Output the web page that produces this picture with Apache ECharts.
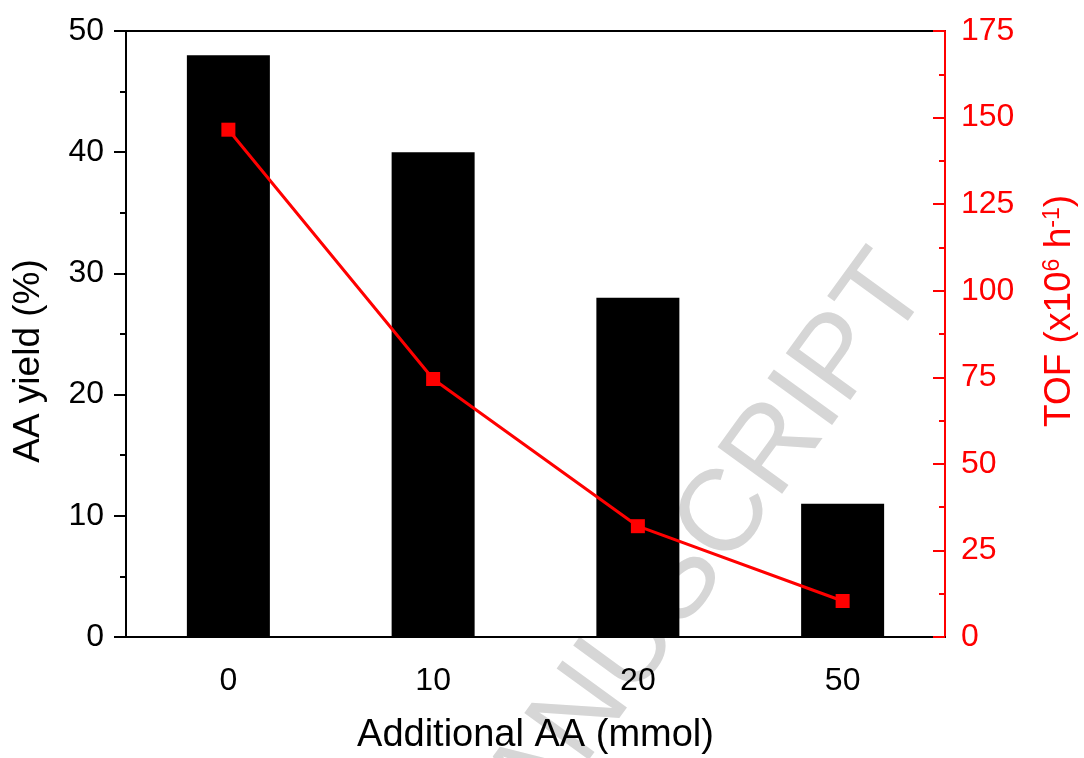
<!DOCTYPE html>
<html>
<head>
<meta charset="utf-8">
<script src="https://cdn.jsdelivr.net/npm/echarts@6/dist/echarts.min.js"></script>
<style>
  html, body { margin: 0; padding: 0; background: #fff; }
  #main { width: 1084px; height: 758px; }
</style>
</head>
<body>
<div id="main"></div>
<script>
// 数据
var categories = ['0', '10', '20', '50'];
var yieldValues = [48, 40, 28, 11];
var tofValues = [146.5, 74.5, 32, 10.4];
var leftTicks = { min: 0, max: 50, interval: 10 };
var rightTicks = { min: 0, max: 175, interval: 25 };

var font = "'Liberation Sans', Arial, sans-serif";
var red = '#ff0000';

var myChart = echarts.init(document.getElementById('main'));

var option = {
    backgroundColor: '#fff',
    animation: false,
    textStyle: { fontFamily: font },
    grid: {
        left: 126, right: 139, top: 31, bottom: 121,
        outerBoundsMode: 'none',
        containLabel: false,
        show: true, borderColor: '#000', borderWidth: 2,
        backgroundColor: 'transparent'
    },
    graphic: [{
        type: 'text',
        z: -10,
        x: 906, y: 269,
        rotation: 54 * Math.PI / 180,
        style: {
            text: 'ACCEPTED MANUSCRIPT',
            fontFamily: font,
            fontSize: 116,
            fill: '#d6d6d6',
            align: 'right',
            verticalAlign: 'middle'
        }
    }],
    xAxis: [{
        type: 'category',
        position: 'bottom',
        data: categories,
        name: 'Additional AA (mmol)',
        nameLocation: 'middle',
        nameGap: 80,
        nameTextStyle: { fontSize: 38, color: '#000', fontFamily: font },
        axisLine: { lineStyle: { color: '#000', width: 2 } },
        axisTick: { alignWithLabel: true, length: 13, lineStyle: { color: '#000', width: 2 } },
        axisLabel: { fontSize: 32, color: '#000', margin: 28, fontFamily: font },
        splitLine: { show: false }
    }, {
        // 底边上的分隔短刻度
        type: 'category',
        position: 'top',
        offset: -606,
        data: categories,
        axisLine: { show: false },
        axisTick: { inside: true, length: 7, lineStyle: { color: '#000', width: 2 } },
        axisLabel: { show: false },
        splitLine: { show: false }
    }],
    yAxis: [{
        type: 'value',
        position: 'left',
        min: leftTicks.min, max: leftTicks.max, interval: leftTicks.interval,
        name: 'AA yield (%)',
        nameLocation: 'middle',
        nameRotate: 90,
        nameGap: 79,
        nameTextStyle: { fontSize: 37, color: '#000', fontFamily: font, padding: [0, 54, 0, 0] },
        axisLine: { show: true, lineStyle: { color: '#000', width: 2 } },
        axisTick: { show: true, length: 12, lineStyle: { color: '#000', width: 2 } },
        minorTick: { show: true, splitNumber: 2, length: 6, lineStyle: { color: '#000', width: 2 } },
        axisLabel: { fontSize: 32, color: '#000', margin: 22, fontFamily: font },
        splitLine: { show: false }
    }, {
        type: 'value',
        position: 'right',
        min: rightTicks.min, max: rightTicks.max, interval: rightTicks.interval,
        name: 'TOF (x10{sup|6} h{sup|-1})',
        nameLocation: 'middle',
        nameRotate: 90,
        nameGap: 96,
        nameTextStyle: {
            fontSize: 37, color: red, fontFamily: font, padding: [0, 0, 0, 46],
            rich: { sup: { fontSize: 23, color: red, fontFamily: font, verticalAlign: 'top' } }
        },
        axisLine: { show: true, lineStyle: { color: red, width: 2 } },
        axisTick: { show: true, inside: true, length: 12, lineStyle: { color: red, width: 2 } },
        minorTick: { show: true, splitNumber: 2, length: 6, lineStyle: { color: red, width: 2 } },
        axisLabel: { fontSize: 32, color: red, margin: 16, fontFamily: font },
        splitLine: { show: false }
    }],
    series: [{
        name: 'AA yield',
        type: 'bar',
        data: yieldValues,
        barWidth: 83,
        itemStyle: { color: '#000' },
        z: 2
    }, {
        name: 'TOF',
        type: 'line',
        yAxisIndex: 1,
        data: tofValues,
        symbol: 'rect',
        symbolSize: 14,
        itemStyle: { color: red },
        lineStyle: { color: red, width: 3 },
        z: 5
    }]
};
myChart.setOption(option);
</script>
</body>
</html>
